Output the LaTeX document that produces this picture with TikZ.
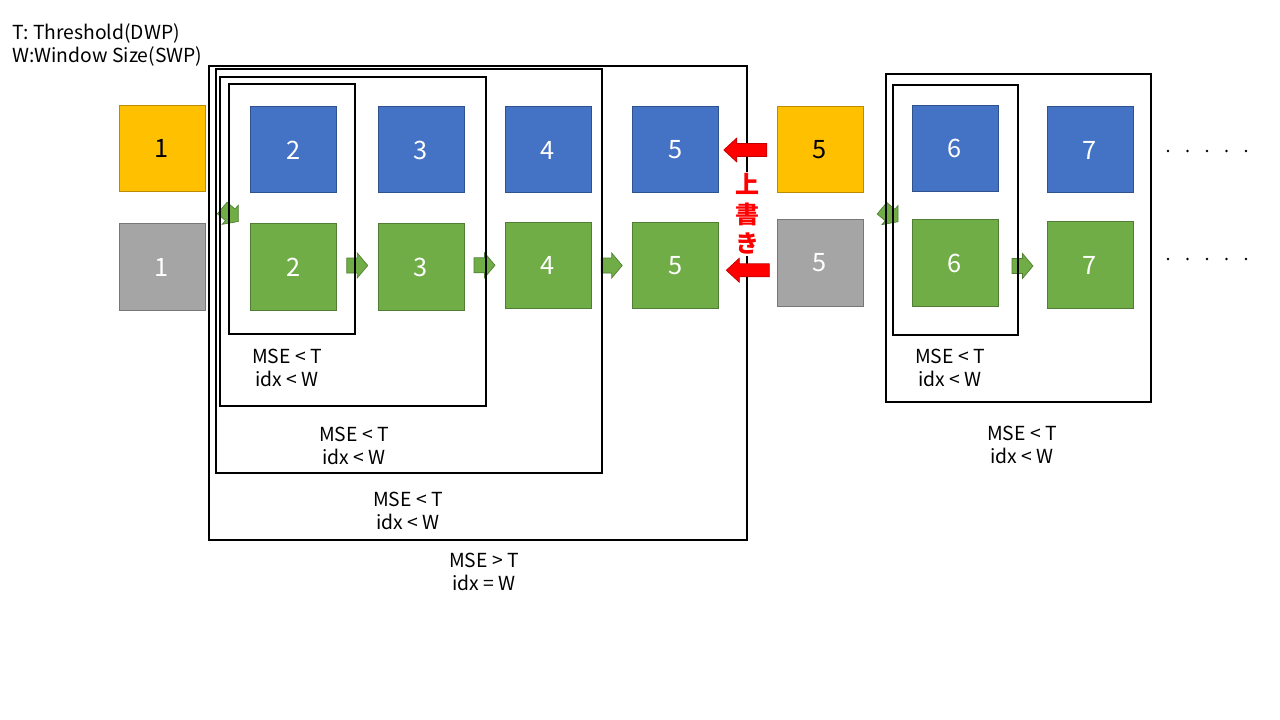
\documentclass[tikz,border=0pt]{standalone}
\usepackage{fontspec}
\setmainfont{Noto Sans CJK JP}
\usetikzlibrary{calc}
\definecolor{cblue}{HTML}{4472C4}
\definecolor{cblueD}{HTML}{2F528F}
\definecolor{cgreen}{HTML}{70AD47}
\definecolor{cgreenD}{HTML}{507E32}
\definecolor{cyel}{HTML}{FFC000}
\definecolor{cyelD}{HTML}{BC8C00}
\definecolor{cgray}{HTML}{A5A5A5}
\definecolor{cgrayD}{HTML}{787878}
\definecolor{cred}{HTML}{FF0000}
\definecolor{credD}{HTML}{C00000}
\tikzset{
  sq/.style={draw, line width=0.75pt, minimum width=64.5pt, minimum height=64.5pt, inner sep=0pt, font=\fontsize{19}{20}\selectfont},
  bluebox/.style={sq, fill=cblue, draw=cblueD, text=white},
  greenbox/.style={sq, fill=cgreen, draw=cgreenD, text=white},
  yelbox/.style={sq, fill=cyel, draw=cyelD, text=black},
  graybox/.style={sq, fill=cgray, draw=cgrayD, text=white},
  frame/.style={draw=black, line width=0.9pt},
  cond/.style={align=center, font=\fontsize{14.5}{17.25}\selectfont, inner sep=0pt},
  garrow/.pic={\draw[fill=cgreen, draw=cgreenD, line width=0.5pt] (-10.5,-7.5) -- (0,-7.5) -- (0,-12.5) -- (10.5,0) -- (0,12.5) -- (0,7.5) -- (-10.5,7.5) -- cycle;},
  darrow/.pic={\draw[fill=cgreen, draw=cgreenD, line width=0.5pt] (-3.22,-12.49) -- (4.82,-5.74) -- (8.04,-9.57) -- (8.04,6.75) -- (-8.04,9.57) -- (-4.82,5.74) -- (-12.86,-1.01) -- cycle;},
  rarrow/.pic={\draw[fill=cred, draw=credD, line width=0.5pt] (-21.5,0) -- (-8.5,-12) -- (-8.5,-6.5) -- (21.5,-6.5) -- (21.5,6.5) -- (-8.5,6.5) -- (-8.5,12) -- cycle;},
}
\begin{document}
\begin{tikzpicture}[x=0.75pt,y=-0.75pt]
\useasboundingbox (0,0) rectangle (1280,720);
% header
\node[anchor=base west, inner sep=0pt, font=\fontsize{14.5}{16}\selectfont] (h1) at (12,40) {T: Threshold(DWP)};
\node[anchor=base west, inner sep=0pt, font=\fontsize{14.5}{16}\selectfont] (h2) at (12,63) {W:Window Size(SWP)};
% boxes
\node[yelbox] (y1) at (162,148.5) {1};
\node[graybox] (k1) at (162,267) {1};
\node[bluebox] (b2) at (293.5,150) {2};
\node[greenbox] (g2) at (293.5,267) {2};
\node[bluebox] (b3) at (421,150) {3};
\node[greenbox] (g3) at (421,267) {3};
\node[bluebox] (b4) at (548,150) {4};
\node[greenbox] (g4) at (548,265.5) {4};
\node[bluebox] (b5) at (675.5,150) {5};
\node[greenbox] (g5) at (675.5,265.5) {5};
\node[yelbox] (y5) at (820,150) {5};
\node[graybox] (k5) at (820,263) {5};
\node[bluebox] (b6) at (955,148.5) {6};
\node[greenbox] (g6) at (955,263) {6};
\node[bluebox] (b7) at (1090,150) {7};
\node[greenbox] (g7) at (1090,265) {7};
% green arrows
\pic at ($(g2.east)!0.5!(g3.west)+(0,-1.5)$) {garrow};
\pic at ($(g3.east)!0.5!(g4.west)+(0,-1)$) {garrow};
\pic at ($(g4.east)!0.5!(g5.west)$) {garrow};
\pic at ($(g6.east)!0.5!(g7.west)+(0,2)$) {garrow};
\pic at ($(y1.south east)!0.5!(g2.north west)+(2.5,7)$) {darrow};
\pic at ($(y5.south east)!0.5!(g6.north west)+(2.5,8.5)$) {darrow};
% frames
\draw[frame] (209,66) rectangle (747,540);
\draw[frame] (216,69) rectangle (602,473);
\draw[frame] (220,77) rectangle (486,406);
\draw[frame] (229,84) rectangle (355,334);
\draw[frame] (886,74) rectangle (1151,402);
\draw[frame] (893,85) rectangle (1018,335);
% condition labels
\node[cond] (c1) at (287,368) {MSE < T\\idx < W};
\node[cond] (c2) at (354,446) {MSE < T\\idx < W};
\node[cond] (c3) at (408,511) {MSE < T\\idx < W};
\node[cond] (c4) at (484,572) {MSE > T\\idx = W};
\node[cond] (c5) at (950,368) {MSE < T\\idx < W};
\node[cond] (c6) at (1022,445) {MSE < T\\idx < W};
% overwrite
\node[fill=white, text=cred, inner xsep=1pt, inner ysep=1pt, align=center, font=\fontsize{18}{22}\selectfont\bfseries] (ow) at (747,214) {上\\書\\き};
\pic at ($(b5.east)!0.5!(y5.west)+(-2.5,0)$) {rarrow};
\pic at ($(g5.east)!0.5!(k5.west)+(0,6)$) {rarrow};
% dots
\foreach \yy in {151,259}{
  \foreach \xx in {1168,1187.5,1207,1226.5,1246}{
    \fill (\xx,\yy) circle (1.4);
  }
}
\end{tikzpicture}
\end{document}
